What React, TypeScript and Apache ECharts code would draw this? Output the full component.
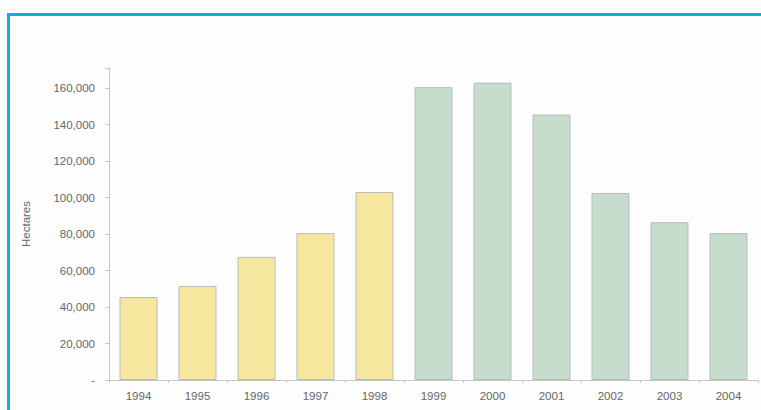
import React, { useEffect, useRef } from "react";
import * as echarts from "echarts";

const years = ["1994", "1995", "1996", "1997", "1998", "1999", "2000", "2001", "2002", "2003", "2004"];
const hectares = [45500, 51500, 67500, 80500, 103000, 160500, 163000, 145500, 102500, 86500, 80500];
const periodA = ["1994", "1995", "1996", "1997", "1998"];
const yTicks = [0, 20000, 40000, 60000, 80000, 100000, 120000, 140000, 160000];

const yellow = "#f6e79f";
const green = "#c6dccd";
const font = "Liberation Sans, Arial";

export default function App() {
  const ref = useRef<HTMLDivElement>(null);
  useEffect(() => {
    if (!ref.current) return;
    const chart = echarts.init(ref.current, undefined, { renderer: "svg" });
    chart.setOption({
      animation: false,
      backgroundColor: "#fdfdfd",
      graphic: [
        {
          type: "rect",
          shape: { x: 8.5, y: 14.5, width: 800, height: 450 },
          style: { fill: "none", stroke: "#14a8e6", lineWidth: 3 },
          z: 100,
        },
      ],
      grid: { left: 109, right: 3, top: 68, bottom: 30 },
      xAxis: {
        type: "category",
        data: years,
        axisLine: { lineStyle: { color: "#c4c4c4", width: 1 } },
        axisTick: { show: true, length: 3, lineStyle: { color: "#c4c4c4" } },
        axisLabel: { color: "#666", fontSize: 11.5, fontFamily: font, margin: 10 },
      },
      yAxis: {
        type: "value",
        min: 0,
        max: 171000,
        interval: 20000,
        name: "Hectares",
        nameLocation: "middle",
        nameGap: 77,
        nameRotate: 90,
        nameTextStyle: { color: "#666", fontSize: 11.5, fontFamily: font },
        splitLine: { show: false },
        axisLine: { show: true, lineStyle: { color: "#c4c4c4", width: 1 } },
        axisTick: { show: true, length: 4, lineStyle: { color: "#c4c4c4" } },
        axisLabel: {
          color: "#666",
          fontSize: 11.5,
          fontFamily: font,
          margin: 14,
          formatter: (v: number) => {
            if (!yTicks.includes(v)) return "";
            if (v === 0) return "-";
            return v.toLocaleString("en-US");
          },
        },
      },
      series: [
        {
          type: "bar",
          barWidth: 38,
          data: hectares.map((v, i) => ({
            value: v,
            itemStyle: {
              color: periodA.includes(years[i]) ? yellow : green,
              borderColor: "#b9bdb9",
              borderWidth: 1,
            },
          })),
        },
      ],
    });
    return () => chart.dispose();
  }, []);
  return (
    <div
      ref={ref}
      style={{ position: "fixed", left: 0, top: 0, width: 761, height: 410 }}
    />
  );
}
